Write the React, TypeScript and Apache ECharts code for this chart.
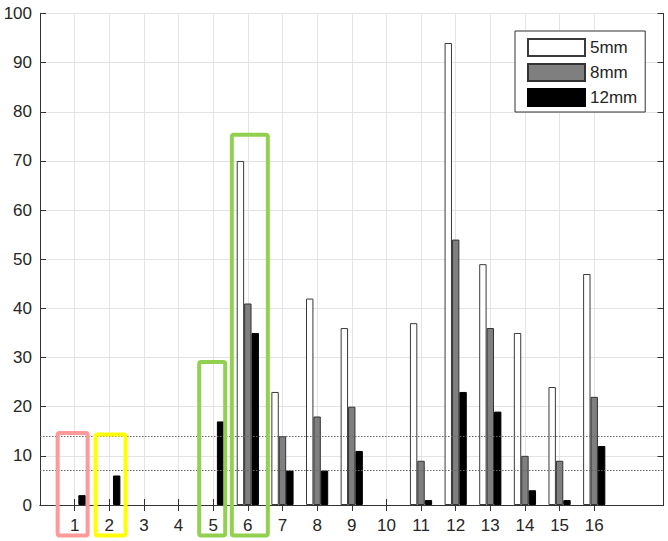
import React, { useEffect, useRef } from "react";
import * as echarts from "echarts";

// Axis slots 0..18 (x-limits [0, 18]); only 1..16 carry ticks/labels
const axisSlots = ["0", "1", "2", "3", "4", "5", "6", "7", "8", "9", "10", "11", "12", "13", "14", "15", "16", "17", "18"];
const groups = [1, 2, 3, 4, 5, 6, 7, 8, 9, 10, 11, 12, 13, 14, 15, 16];
const s5mm = [0, 0, 0, 0, 0, 70, 23, 42, 36, 0, 37, 94, 49, 35, 24, 47];
const s8mm = [0, 0, 0, 0, 0, 41, 14, 18, 20, 0, 9, 54, 36, 10, 9, 22];
const s12mm = [2, 6, 0, 0, 17, 35, 7, 7, 11, 0, 1, 23, 19, 3, 1, 12];
const seriesNames = ["5mm", "8mm", "12mm"];
const yTicks = [0, 10, 20, 30, 40, 50, 60, 70, 80, 90, 100];
const thresholds = [14, 7];

// highlight boxes: category, top value, center offset (px), width (px), color
const highlights = [
  { cat: 1, top: 14.65, dx: -2, w: 30, color: "#FF9A9A" },
  { cat: 2, top: 14.35, dx: 1.3, w: 30, color: "#FFFF00" },
  { cat: 5, top: 29.1, dx: -1, w: 26, color: "#92D050" },
  { cat: 6, top: 75.35, dx: 2, w: 36, color: "#92D050" },
];

const FONT = "'Liberation Sans', Arial, Helvetica, sans-serif";
const TXT = "#262626";
const AX = "#333333";

const isShown = (idx: number) => groups.indexOf(idx) >= 0;

export default function App() {
  const ref = useRef<HTMLDivElement>(null);
  useEffect(() => {
    if (!ref.current) return;
    const chart = echarts.init(ref.current, null, { renderer: "svg" });
    const toPairs = (arr: number[]) =>
      arr.map((v, i) =>
        v === 0
          ? { value: [groups[i], v], itemStyle: { borderWidth: 0, opacity: 0 } }
          : { value: [groups[i], v] }
      );
    const barBase = {
      type: "bar" as const,
      barWidth: 7.4,
      barGap: "0%",
      xAxisIndex: 0,
      yAxisIndex: 0,
    };
    chart.setOption({
      animation: false,
      backgroundColor: "#ffffff",
      textStyle: { fontFamily: FONT },
      grid: { left: 40, top: 13.5, width: 623.5, height: 491.5, containLabel: false },
      legend: {
        data: seriesNames,
        orient: "vertical",
        left: 515,
        top: 31,
        padding: [7, 8, 5, 12],
        itemWidth: 57,
        itemHeight: 17,
        itemGap: 6,
        icon: "rect",
        backgroundColor: "#ffffff",
        borderColor: AX,
        borderWidth: 1,
        borderRadius: 0,
        textStyle: { fontFamily: FONT, fontSize: 17, color: TXT, lineHeight: 17 },
      },
      xAxis: [
        {
          type: "category",
          data: axisSlots,
          boundaryGap: false,
          position: "bottom",
          axisLine: { show: true, lineStyle: { color: AX, width: 1 } },
          axisTick: {
            show: true,
            inside: true,
            length: 6,
            interval: (i: number) => isShown(i),
            lineStyle: { color: AX },
          },
          axisLabel: {
            show: true,
            interval: (i: number) => isShown(i),
            fontSize: 17,
            color: TXT,
            fontFamily: FONT,
            margin: 12,
          },
          splitLine: {
            show: true,
            interval: (i: number) => isShown(i),
            lineStyle: { color: "#e3e3e3", width: 1 },
          },
        },
        {
          type: "category",
          data: axisSlots,
          boundaryGap: false,
          position: "top",
          axisLine: { show: true, lineStyle: { color: AX, width: 1 } },
          axisTick: {
            show: true,
            inside: true,
            length: 6,
            interval: (i: number) => isShown(i),
            lineStyle: { color: AX },
          },
          axisLabel: { show: false },
          splitLine: { show: false },
        },
      ],
      yAxis: [
        {
          type: "value",
          min: yTicks[0],
          max: yTicks[yTicks.length - 1],
          interval: 10,
          position: "left",
          axisLine: { show: true, lineStyle: { color: AX, width: 1 } },
          axisTick: { show: true, inside: true, length: 6, lineStyle: { color: AX } },
          axisLabel: { fontSize: 17, color: TXT, fontFamily: FONT, margin: 8 },
          splitLine: { show: true, lineStyle: { color: "#e3e3e3", width: 1 } },
        },
        {
          type: "value",
          min: yTicks[0],
          max: yTicks[yTicks.length - 1],
          interval: 10,
          position: "right",
          axisLine: { show: true, lineStyle: { color: AX, width: 1 } },
          axisTick: { show: true, inside: true, length: 6, lineStyle: { color: AX } },
          axisLabel: { show: false },
          splitLine: { show: false },
        },
      ],
      series: [
        {
          ...barBase,
          name: seriesNames[0],
          data: toPairs(s5mm),
          itemStyle: { color: "#ffffff", borderColor: "#3a3a3a", borderWidth: 1 },
          markLine: {
            silent: true,
            symbol: "none",
            label: { show: false },
            lineStyle: { color: "#666666", type: [1.5, 1.5], width: 1 },
            data: thresholds.map((t) => ({ yAxis: t })),
          },
        },
        {
          ...barBase,
          name: seriesNames[1],
          data: toPairs(s8mm),
          itemStyle: { color: "#7f7f7f", borderColor: "#333333", borderWidth: 1 },
        },
        {
          ...barBase,
          name: seriesNames[2],
          data: toPairs(s12mm),
          itemStyle: { color: "#000000", borderColor: "#000000", borderWidth: 1 },
        },
      ],
    });

    const base = chart.convertToPixel({ yAxisIndex: 0 }, 0) as number;
    const graphics = highlights.map((h) => {
      const cx = (chart.convertToPixel({ xAxisIndex: 0 }, h.cat) as number) + h.dx;
      const ty = chart.convertToPixel({ yAxisIndex: 0 }, h.top) as number;
      const by = base + 30.5;
      return {
        type: "rect",
        z: 100,
        silent: true,
        shape: { x: cx - h.w / 2, y: ty, width: h.w, height: by - ty, r: 2 },
        style: { fill: "none", stroke: h.color, lineWidth: 4 },
      };
    });
    chart.setOption({ graphic: graphics });

    return () => chart.dispose();
  }, []);
  return (
    <div
      ref={ref}
      style={{ position: "fixed", left: 0, top: 0, width: 668, height: 541 }}
    />
  );
}
